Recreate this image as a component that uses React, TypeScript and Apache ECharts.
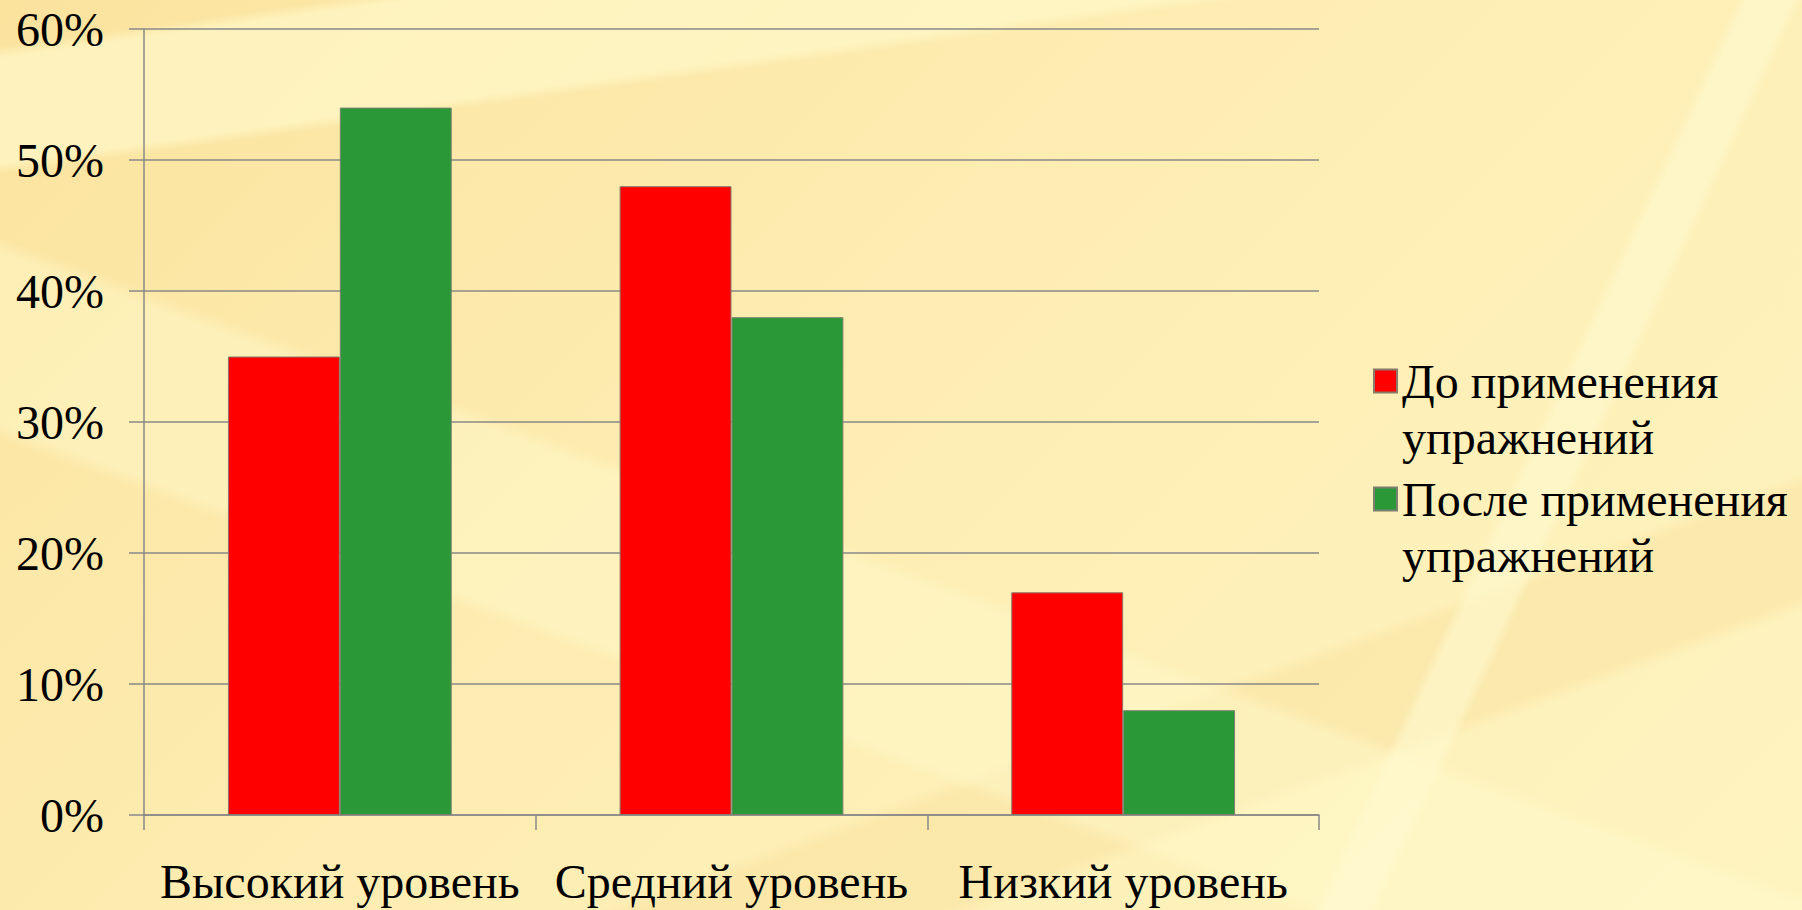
import React, { useEffect, useRef } from "react";
import * as echarts from "echarts";

const categories = ["Высокий уровень", "Средний уровень", "Низкий уровень"];
const seriesNames = ["До применения\nупражнений", "После применения\nупражнений"];
const beforeValues = [35, 48, 17];
const afterValues = [54, 38, 8];
const yTicks = [0, 10, 20, 30, 40, 50, 60];

const FONT = "Liberation Serif";

const BG = [
  "linear-gradient(172deg, rgba(255,250,205,0) 4%, rgba(255,250,205,0.65) 5%, rgba(255,250,205,0.65) 14%, rgba(255,250,205,0) 15%)",
  "linear-gradient(115deg, rgba(255,250,210,0) 78%, rgba(255,250,210,0.55) 78.5%, rgba(255,250,210,0.55) 80.5%, rgba(255,250,210,0) 81%)",
  "linear-gradient(20deg, rgba(255,250,205,0) 30%, rgba(255,250,205,0.45) 31%, rgba(255,250,205,0.45) 42%, rgba(255,250,205,0) 43%)",
  "linear-gradient(160deg, rgba(245,215,140,0) 72%, rgba(245,215,140,0.3) 73%, rgba(245,215,140,0.3) 80%, rgba(245,215,140,0) 81%)",
  "linear-gradient(135deg, #FBE39E 0%, #FDEDB2 45%, #FEF4C0 100%)",
].join(", ");

export default function App() {
  const ref = useRef<HTMLDivElement>(null);
  useEffect(() => {
    if (!ref.current) return;
    const chart = echarts.init(ref.current, undefined, { renderer: "svg" });
    const lh = 56;
    const richA = { a: { fontFamily: FONT, fontSize: 48, color: "#000", lineHeight: lh } };
    const legendText = {
      fontFamily: FONT,
      fontSize: 48,
      color: "#000",
      lineHeight: lh,
      rich: richA,
    };
    const legendFormatter = (n: string) =>
      ["{a| }"].concat(n.split("\n").map((s) => "{a|" + s + "}")).join("\n");
    chart.setOption({
      animation: false,
      backgroundColor: "transparent",
      grid: { left: 144, right: 483, top: 29, bottom: 95 },
      legend: [
        {
          data: [seriesNames[0]],
          left: 1368,
          top: 292,
          orient: "vertical",
          itemWidth: 23,
          itemHeight: 23,
          icon: "rect",
          textStyle: legendText,
          formatter: legendFormatter,
          selectedMode: false,
        },
        {
          data: [seriesNames[1]],
          left: 1368,
          top: 410,
          orient: "vertical",
          itemWidth: 23,
          itemHeight: 23,
          icon: "rect",
          textStyle: legendText,
          formatter: legendFormatter,
          selectedMode: false,
        },
      ],
      xAxis: {
        type: "category",
        data: categories,
        axisLine: { lineStyle: { color: "#888", width: 1.5 } },
        axisTick: { show: true, length: 15, lineStyle: { color: "#888", width: 1.5 } },
        axisLabel: {
          fontFamily: FONT, fontSize: 48, color: "#000", margin: 42, interval: 0,
          formatter: (v: string) => "{a|" + v + "}",
          rich: { a: { fontFamily: FONT, fontSize: 48, color: "#000" } },
        },
      },
      yAxis: {
        type: "value",
        min: 0,
        max: 60,
        interval: 10,
        axisLine: { show: true, lineStyle: { color: "#888", width: 1.5 } },
        axisTick: { show: true, length: 15, lineStyle: { color: "#888", width: 1.5 } },
        splitLine: { lineStyle: { color: "#888", width: 1.5 } },
        axisLabel: {
          fontFamily: FONT,
          fontSize: 48,
          color: "#000",
          margin: 40,
          formatter: (v: number) => (yTicks.includes(v) ? "{a|" + v + "%}" : ""),
          rich: { a: { fontFamily: FONT, fontSize: 48, color: "#000" } },
        },
      },
      series: [
        {
          name: seriesNames[0],
          type: "bar",
          data: beforeValues,
          barGap: "0%",
          barCategoryGap: "42.86%",
          itemStyle: { color: "#FF0000", borderColor: "#8a7a6a", borderWidth: 1 },
        },
        {
          name: seriesNames[1],
          type: "bar",
          data: afterValues,
          barGap: "0%",
          barCategoryGap: "42.86%",
          itemStyle: { color: "#2A9836", borderColor: "#7a8070", borderWidth: 1 },
        },
      ],
    });
    return () => chart.dispose();
  }, []);
  return (
    <div
      ref={ref}
      style={{ position: "fixed", left: 0, top: 0, width: 1802, height: 910, background: BG }}
    />
  );
}
